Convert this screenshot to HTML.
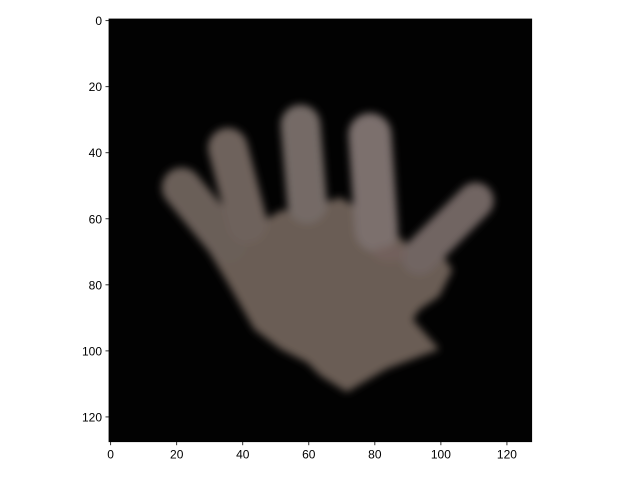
<!DOCTYPE html>
<html><head><meta charset="utf-8"><style>
body{margin:0;background:#fff;}
svg text{font-family:"Liberation Sans","DejaVu Sans",sans-serif;font-size:12px;fill:#000;}
</style></head><body>
<svg id="chart" width="640" height="480" viewBox="0 0 640 480">
<defs>
<filter id="blur" x="-20%" y="-20%" width="140%" height="140%"><feGaussianBlur stdDeviation="1.2"/></filter>
<clipPath id="clip"><rect x="0" y="0" width="128" height="128"/></clipPath>
</defs>
<g id="plot"></g>
</svg>
<script>
const xTicks=[0,20,40,60,80,100,120];
const yTicks=[0,20,40,60,80,100,120];
const imgW=128, imgH=128;
const L=109, T=19, R=531.7, B=441.7;
const sx=(R-L)/imgW, sy=(B-T)/imgH;
const X=v=>L+(v+0.5)*sx, Y=v=>T+(v+0.5)*sy;
const NS="http://www.w3.org/2000/svg";
const plot=document.getElementById('plot');
function mk(t,a,p){const e=document.createElementNS(NS,t);for(const k in a)e.setAttribute(k,a[k]);(p||plot).appendChild(e);return e;}
const img=mk('g',{transform:`translate(${L},${T}) scale(${sx},${sy})`});


mk('rect',{x:0,y:0,width:128,height:128,fill:'#020202'},img);
const hand=mk('g',{filter:'url(#blur)','clip-path':'url(#clip)'},img);
mk('polygon',{points:'24,60 32,56 42,64 52,58 58,58 70,54 80,60 88,66 94,72 100,70 104,76 100,84 94,88 92,91 100,100 84,106 72,113 64,108 60,104 52,100 44,94 36,80 30,70',fill:'#6a5d55'},hand);
const fingers=[[22,51,36,68,12,'#6b5f58'],[36,39,42,62,12,'#6e625c'],[58,32,60,56,12,'#756a66'],[79,35,81,64,13,'#7b706d'],[111,55,94,72,11,'#716562']];
fingers.forEach(f=>{mk('line',{x1:f[0],y1:f[1],x2:f[2],y2:f[3],stroke:f[5],'stroke-width':f[4],'stroke-linecap':'round'},hand);});
mk('ellipse',{cx:85,cy:71,rx:5,ry:2.5,fill:'#76635e',opacity:0.7},hand);
mk('rect',{x:L,y:T,width:R-L,height:B-T,fill:'none',stroke:'#000','stroke-width':0.8});
xTicks.forEach(v=>{const g=mk('g',{});


mk('line',{x1:X(v),x2:X(v),y1:B,y2:B+3.5,stroke:'#000','stroke-width':0.8},g);
const t=mk('text',{x:X(v),y:B+17,'text-anchor':'middle'},g);t.textContent=v;});
yTicks.forEach(v=>{const g=mk('g',{});


mk('line',{x1:L-3.5,x2:L,y1:Y(v),y2:Y(v),stroke:'#000','stroke-width':0.8},g);
const t=mk('text',{x:L-7,y:Y(v)+4.5,'text-anchor':'end'},g);t.textContent=v;});
</script>
</body></html>
